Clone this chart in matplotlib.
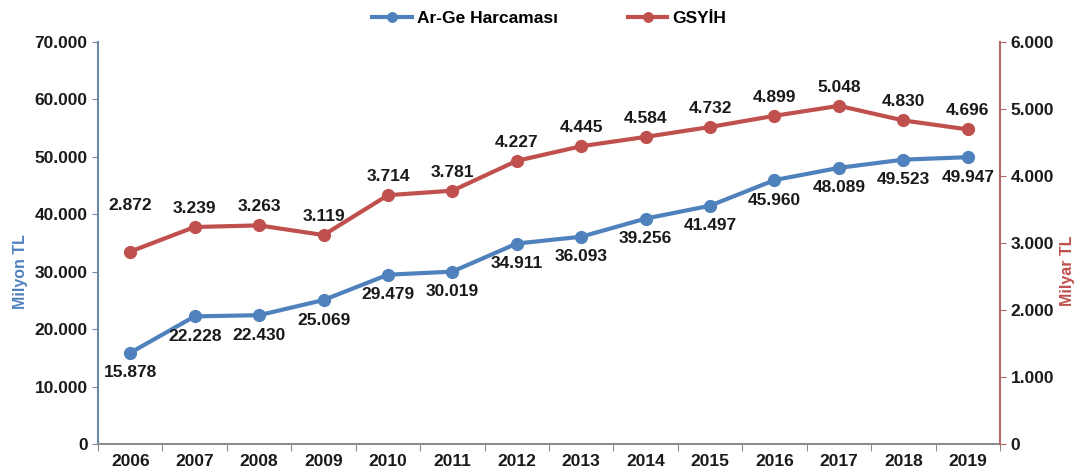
import matplotlib.pyplot as plt
from matplotlib.ticker import FuncFormatter

plt.rcParams['font.family'] = ['Liberation Sans', 'DejaVu Sans']

years = ['2006', '2007', '2008', '2009', '2010', '2011', '2012',
         '2013', '2014', '2015', '2016', '2017', '2018', '2019']
arge = [15878, 22228, 22430, 25069, 29479, 30019, 34911,
        36093, 39256, 41497, 45960, 48089, 49523, 49947]
gsyih = [2872, 3239, 3263, 3119, 3714, 3781, 4227,
         4445, 4584, 4732, 4899, 5048, 4830, 4696]

blue = '#4F81BD'
red = '#C0504D'
fs = 12.5


def tr_fmt(v, pos=None):
    # turkish thousands separator
    return f'{int(round(v)):,}'.replace(',', '.')


fig = plt.figure(figsize=(10.77, 4.74), dpi=100)
ax = fig.add_axes([0.091, 0.0633, 0.8375, 0.848])
ax2 = ax.twinx()

x = list(range(len(years)))
l1, = ax.plot(x, arge, color=blue, lw=3, marker='o', ms=8.5, label='Ar-Ge Harcaması', zorder=3)
l2, = ax2.plot(x, gsyih, color=red, lw=3, marker='o', ms=8.5, label='GSYİH', zorder=3)

ax.set_xlim(-0.5, len(years) - 0.5)
ax.set_ylim(0, 70000)
ax2.set_ylim(0, 6000)
ax.set_yticks(range(0, 70001, 10000))
ax2.set_yticks(range(0, 6001, 1000))
ax.yaxis.set_major_formatter(FuncFormatter(tr_fmt))
ax2.yaxis.set_major_formatter(FuncFormatter(tr_fmt))

ax.set_xticks([i + 0.5 for i in range(-1, len(years))], minor=False)
ax.set_xticklabels([])
ax.set_xticks(x, minor=True)
ax.set_xticklabels(years, minor=True)
ax.tick_params(axis='x', which='minor', length=0, pad=7)
ax.tick_params(axis='x', which='major', length=5, direction='out', color='#8c8c8c')

for a in (ax, ax2):
    a.spines['top'].set_visible(False)
    for lab in a.get_xticklabels(minor=True) + a.get_yticklabels():
        lab.set_fontweight('bold')
        lab.set_fontsize(fs)
        lab.set_color('#1a1a1a')

ax.spines['right'].set_visible(False)
ax2.spines['left'].set_visible(False)
ax2.spines['bottom'].set_visible(False)
ax.spines['left'].set_color('#6b8aa8')
ax.spines['left'].set_linewidth(1.5)
ax2.spines['right'].set_color('#b06a6a')
ax2.spines['right'].set_linewidth(1.5)
ax.spines['bottom'].set_color('#8c8c8c')
ax.spines['bottom'].set_linewidth(1.5)
ax.tick_params(axis='y', color='#6b8aa8', length=4)
ax2.tick_params(axis='y', color='#b06a6a', length=4)

ax.set_ylabel('Milyon TL', color=blue, fontweight='bold', fontsize=11.5)
ax2.set_ylabel('Milyar TL', color=red, fontweight='bold', fontsize=11.5)
ax.yaxis.set_label_coords(-0.078, 0.43)
ax2.yaxis.set_label_coords(1.066, 0.43)

# data labels
for i, v in enumerate(arge):
    ax.annotate(tr_fmt(v), (i, v), xytext=(0, -9), textcoords='offset points',
                ha='center', va='top', fontsize=fs, fontweight='bold', color='#1a1a1a')
for i, v in enumerate(gsyih):
    dy = 28 if i == 0 else 8
    ax2.annotate(tr_fmt(v), (i, v), xytext=(0, dy), textcoords='offset points',
                 ha='center', va='bottom', fontsize=fs, fontweight='bold', color='#1a1a1a')

fig.legend(handles=[l1, l2], loc='upper center', bbox_to_anchor=(0.51, 1.01), ncol=2,
           frameon=False, prop={'weight': 'bold', 'size': 12.5}, columnspacing=4,
           handlelength=2.3, handletextpad=0.3, markerscale=0.8)

fig.savefig('out.png', dpi=100)
